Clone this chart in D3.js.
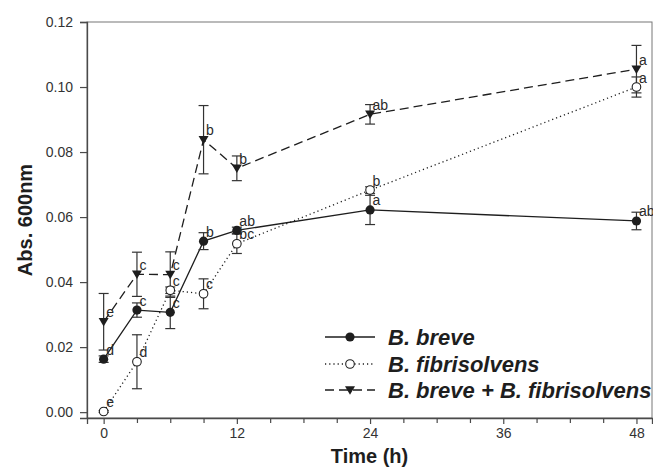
<!DOCTYPE html>
<html>
<head>
<meta charset="utf-8">
<script src="https://cdn.jsdelivr.net/npm/d3@7"></script>
<style>
  html, body { margin: 0; padding: 0; background: #fff; }
  svg { display: block; font-family: "Liberation Sans", Arial, sans-serif; }
</style>
</head>
<body>
<svg id="chart" width="653" height="469"></svg>
<script>
// Sampling times (h)
const times = [0, 3, 6, 9, 12, 24, 48];

// Absorbance at 600 nm, mean and error per strain / co-culture
const breve        = [0.0163, 0.0314, 0.0307, 0.0526, 0.0559, 0.0622, 0.0588];
const breveErr     = [0.0010, 0.0022, 0.0050, 0.0026, 0.0010, 0.0045, 0.0027];
const breveLetters = ["d", "c", "c", "b", "ab", "a", "ab"];

const fibri        = [0.0002, 0.0155, 0.0375, 0.0364, 0.0518, 0.0683, 0.1000];
const fibriErr     = [0.0003, 0.0083, 0.0010, 0.0046, 0.0030, 0.0010, 0.0031];
const fibriLetters = ["e", "d", "c", "c", "bc", "b", "a"];

const combo        = [0.0278, 0.0424, 0.0423, 0.0838, 0.0750, 0.0916, 0.1055];
const comboErr     = [0.0087, 0.0068, 0.0070, 0.0105, 0.0038, 0.0030, 0.0073];
const comboLetters = ["e", "c", "c", "b", "b", "ab", "a"];

const seriesNames = ["B. breve", "B. fibrisolvens", "B. breve + B. fibrisolvens"];

const yTicks = [0, 0.02, 0.04, 0.06, 0.08, 0.10, 0.12];
const xMajorTicks = [0, 12, 24, 36, 48];
const xMinorTicks = [3, 6, 9, 15, 18, 21, 27, 30, 33, 39, 42, 45];

const svg = d3.select("#chart");
const W = 653, H = 469;
const m = { left: 87, right: 1, top: 22, bottom: 51 };

const x = d3.scaleLinear().domain([-1.5, 49.4]).range([m.left, W - m.right]);
const y = d3.scaleLinear().domain([-0.0018, 0.12]).range([H - m.bottom, m.top]);

const ink = "#1e1e1e";
const axisInk = "#4a4a4a";

// Plot frame
svg.append("rect")
  .attr("x", m.left).attr("y", m.top)
  .attr("width", W - m.right - m.left)
  .attr("height", H - m.bottom - m.top)
  .attr("fill", "none").attr("stroke", "#777").attr("stroke-width", 1);

// Left axis
const yAxis = svg.append("g")
  .attr("transform", `translate(${m.left},0)`)
  .call(d3.axisLeft(y).tickValues(yTicks).tickFormat(d3.format(".2f")).tickSize(7).tickPadding(7));
yAxis.select(".domain").attr("stroke", axisInk).attr("stroke-width", 1.3);
yAxis.selectAll(".tick line").attr("stroke", axisInk).attr("stroke-width", 1.2);
yAxis.selectAll(".tick text").attr("fill", "#333").style("font-size", "14px");

// Bottom axis: labelled majors and unlabelled minors
const xAxis = svg.append("g")
  .attr("transform", `translate(0,${H - m.bottom})`)
  .call(d3.axisBottom(x).tickValues(xMajorTicks).tickSize(6).tickPadding(4));
xAxis.select(".domain").attr("stroke", axisInk).attr("stroke-width", 1.3);
xAxis.selectAll(".tick line").attr("stroke", axisInk).attr("stroke-width", 1.2);
xAxis.selectAll(".tick text").attr("fill", "#333").style("font-size", "14px");

const xMinor = svg.append("g")
  .attr("transform", `translate(0,${H - m.bottom})`)
  .call(d3.axisBottom(x).tickValues(xMinorTicks).tickSize(5).tickFormat(""));
xMinor.select(".domain").remove();
xMinor.selectAll(".tick line").attr("stroke", axisInk).attr("stroke-width", 1.2);

// Axis titles
svg.append("text")
  .attr("x", (m.left + W - m.right) / 2).attr("y", 463)
  .attr("text-anchor", "middle")
  .style("font-size", "20px").style("font-weight", "bold").attr("fill", ink)
  .text("Time (h)");

svg.append("text")
  .attr("transform", `translate(32,${(m.top + H - m.bottom) / 2}) rotate(-90)`)
  .attr("text-anchor", "middle")
  .style("font-size", "20px").style("font-weight", "bold").attr("fill", ink)
  .text("Abs. 600nm");

// Series definitions
const series = [
  { name: seriesNames[0], vals: breve, err: breveErr, letters: breveLetters, dash: null, marker: "filled" },
  { name: seriesNames[1], vals: fibri, err: fibriErr, letters: fibriLetters, dash: "1.2,3", marker: "open" },
  { name: seriesNames[2], vals: combo, err: comboErr, letters: comboLetters, dash: "9,5", marker: "tri" }
];

const line = d3.line().x(d => x(d.t)).y(d => y(d.v));

function points(s) {
  return times.map((t, i) => ({ t, v: s.vals[i], e: s.err[i], lab: s.letters[i] }));
}

function drawMarker(g, kind, cx, cy) {
  if (kind === "filled") {
    g.append("circle").attr("cx", cx).attr("cy", cy).attr("r", 4.6).attr("fill", ink);
  } else if (kind === "open") {
    g.append("circle").attr("cx", cx).attr("cy", cy).attr("r", 4.3)
      .attr("fill", "#fff").attr("stroke", ink).attr("stroke-width", 1.1);
  } else {
    const s = 5;
    g.append("path")
      .attr("d", `M${cx - s},${cy - s * 0.75}L${cx + s},${cy - s * 0.75}L${cx},${cy + s * 0.95}Z`)
      .attr("fill", ink);
  }
}

// Connecting lines
series.forEach(s => {
  svg.append("path")
    .datum(points(s))
    .attr("d", line)
    .attr("fill", "none")
    .attr("stroke", ink)
    .attr("stroke-width", 1.3)
    .attr("stroke-dasharray", s.dash);
});

// Error bars
series.forEach(s => {
  const g = svg.append("g").attr("stroke", "#333").attr("stroke-width", 1.2);
  points(s).forEach(p => {
    const cx = x(p.t), top = y(p.v + p.e), bot = y(p.v - p.e);
    g.append("line").attr("x1", cx).attr("x2", cx).attr("y1", top).attr("y2", bot);
    g.append("line").attr("x1", cx - 5).attr("x2", cx + 5).attr("y1", top).attr("y2", top);
    g.append("line").attr("x1", cx - 5).attr("x2", cx + 5).attr("y1", bot).attr("y2", bot);
  });
});

// Markers
series.forEach(s => {
  const g = svg.append("g");
  points(s).forEach(p => drawMarker(g, s.marker, x(p.t), y(p.v)));
});

// Significance letters
series.forEach(s => {
  svg.append("g").selectAll("text")
    .data(points(s))
    .join("text")
    .attr("x", p => x(p.t) + 2.5)
    .attr("y", p => y(p.v) - 4.5)
    .style("font-size", "14px")
    .attr("fill", "#2a2a2a")
    .text(p => p.lab);
});

// Legend
const legend = svg.append("g");
const legendRows = [337, 364, 390];
series.forEach((s, i) => {
  const ly = legendRows[i];
  legend.append("line")
    .attr("x1", 325).attr("x2", 375).attr("y1", ly).attr("y2", ly)
    .attr("stroke", ink).attr("stroke-width", 1.3)
    .attr("stroke-dasharray", s.dash);
  drawMarker(legend, s.marker, 350, ly);
  legend.append("text")
    .attr("x", 388).attr("y", ly).attr("dy", "0.36em")
    .style("font-size", "22px").style("font-weight", "bold").style("font-style", "italic")
    .attr("fill", ink)
    .text(s.name);
});
</script>
</body>
</html>
